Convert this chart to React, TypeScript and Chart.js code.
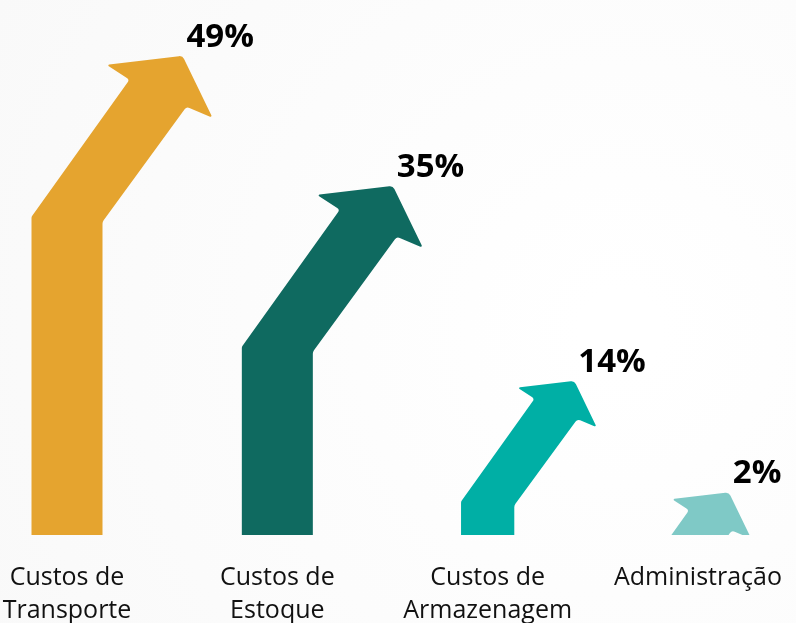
import React, { useEffect, useRef } from "react";
import { Chart, registerables } from "chart.js";

Chart.register(...registerables);

// ---- data ----
const categories: string[][] = [
  ["Custos de", "Transporte"],
  ["Custos de", "Estoque"],
  ["Custos de", "Armazenagem"],
  ["Administração"],
];
const values: number[] = [49, 35, 14, 2];
const valueLabels: string[] = ["49%", "35%", "14%", "2%"];
const axisMin = -2.6;
const axisMax = 55;

// ---- styles ----
const COLORS = ["#E5A42F", "#0F6A60", "#00AFA5", "#7FC9C6"];
const ARROW_SCALE = [1, 1, 0.75, 0.75];

const bgPlugin = {
  id: "bg",
  beforeDraw(chart: any) {
    const ctx = chart.ctx as CanvasRenderingContext2D;
    ctx.save();
    const g = ctx.createRadialGradient(620, 330, 40, 620, 330, 820);
    g.addColorStop(0, "#ffffff");
    g.addColorStop(1, "#f8f8f8");
    ctx.fillStyle = g;
    ctx.fillRect(0, 0, chart.width, chart.height);
    ctx.restore();
  },
};

function roundedPoly(ctx: CanvasRenderingContext2D, pts: number[][]) {
  ctx.beginPath();
  ctx.moveTo(pts[0][0], pts[0][1]);
  for (let i = 1; i < pts.length - 1; i++) {
    const p = pts[i];
    const n = pts[i + 1];
    if (p[2] > 0) ctx.arcTo(p[0], p[1], n[0], n[1], p[2]);
    else ctx.lineTo(p[0], p[1]);
  }
  const last = pts[pts.length - 1];
  ctx.lineTo(last[0], last[1]);
  ctx.closePath();
}

const arrowPlugin = {
  id: "arrows",
  afterDatasetsDraw(chart: any) {
    const ctx = chart.ctx as CanvasRenderingContext2D;
    const meta = chart.getDatasetMeta(0);
    const slope = 98 / 137;
    meta.data.forEach((el: any, i: number) => {
      const { x, y, base } = el.getProps(["x", "y", "base"], true);
      const s = ARROW_SCALE[i];
      let x0 = x - 35.5 * s;
      const yb = y + 161 * s;
      if (yb > base) x0 -= slope * (yb - base);
      const bottom = Math.max(yb, base) + 30;
      const pts = [
        [x0, bottom, 0],
        [x0, yb, 4],
        [x0 + 98 * s, yb - 137 * s, 3],
        [x0 + 75 * s, yb - 152 * s, 1],
        [x0 + 151 * s, yb - 161 * s, 5],
        [x0 + 181 * s, yb - 99 * s, 1],
        [x0 + 155 * s, yb - 110 * s, 4],
        [x0 + 71 * s, yb + 5 * s, 6],
        [x0 + 71 * s, bottom, 0],
      ];
      ctx.save();
      ctx.beginPath();
      ctx.rect(0, 0, chart.width, base);
      ctx.clip();
      roundedPoly(ctx, pts);
      ctx.fillStyle = COLORS[i];
      ctx.fill();
      ctx.restore();

      ctx.save();
      ctx.font = 'bold 33px "Open Sans"';
      ctx.fillStyle = "#000000";
      ctx.textAlign = "left";
      ctx.textBaseline = "alphabetic";
      ctx.fillText(valueLabels[i], x0 + 151 * s + 4, yb - 161 * s - 9);
      ctx.restore();
    });
  },
};

export default function App() {
  const ref = useRef<HTMLCanvasElement | null>(null);
  useEffect(() => {
    document.body.style.margin = "0";
    const chart = new Chart(ref.current as HTMLCanvasElement, {
      type: "bar",
      data: {
        labels: categories as any,
        datasets: [
          {
            data: values,
            base: axisMin,
            backgroundColor: "rgba(0,0,0,0)",
            borderWidth: 0,
          },
        ],
      },
      options: {
        responsive: false,
        animation: false,
        devicePixelRatio: 1,
        layout: { padding: { left: 67, right: 98, top: 0, bottom: 0 } },
        plugins: { legend: { display: false }, tooltip: { enabled: false } },
        scales: {
          x: {
            offset: false,
            grid: { display: false, drawTicks: false },
            border: { display: false },
            ticks: {
              color: "#111111",
              font: { family: '"Open Sans"', size: 25, lineHeight: 1.32 },
              padding: 26,
              maxRotation: 0,
              autoSkip: false,
            },
            afterFit(scale: any) {
              scale.height = 105;
              scale.paddingLeft = 0;
              scale.paddingRight = 0;
            },
          },
          y: { display: false, min: axisMin, max: axisMax },
        },
      } as any,
      plugins: [bgPlugin, arrowPlugin],
    });
    return () => chart.destroy();
  }, []);
  return (
    <div style={{ position: "fixed", left: 0, top: 0, width: 796, height: 623, overflow: "hidden" }}>
      <canvas ref={ref} width={796} height={640} style={{ display: "block" }} />
    </div>
  );
}
